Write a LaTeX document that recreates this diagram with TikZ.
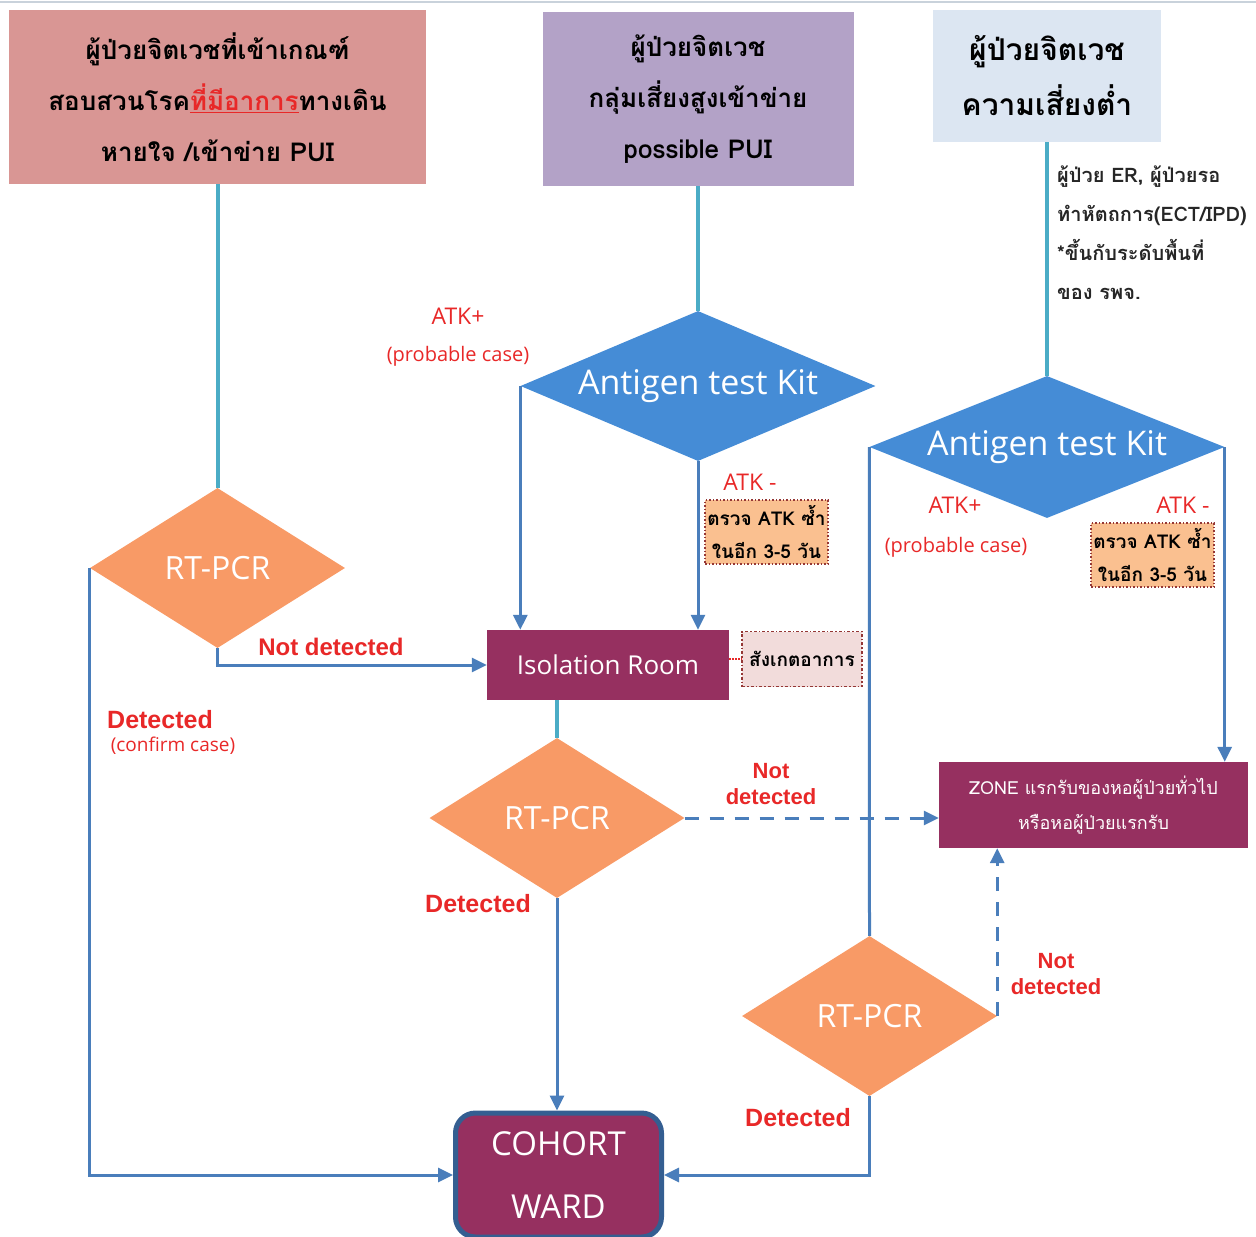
\documentclass[tikz,border=0pt]{standalone}
\usepackage{fontspec}
\setmainfont{Open Sans}
\newfontfamily\thaifont[Script=Thai]{Loma}
\newfontfamily\arialfont{Liberation Sans}
\usetikzlibrary{shapes.geometric,arrows.meta,positioning}

\definecolor{headred}{RGB}{217,150,148}
\definecolor{headpurple}{RGB}{179,162,199}
\definecolor{headblue}{RGB}{220,230,242}
\definecolor{atkblue}{RGB}{69,140,214}
\definecolor{pcrorange}{RGB}{248,154,102}
\definecolor{roompurple}{RGB}{150,48,96}
\definecolor{flowblue}{RGB}{74,126,187}
\definecolor{linkteal}{RGB}{75,172,198}
\definecolor{labelred}{RGB}{232,40,40}
\definecolor{notedark}{RGB}{149,55,53}
\definecolor{noteorange}{RGB}{250,192,144}
\definecolor{notepink}{RGB}{242,220,219}
\definecolor{cohortline}{RGB}{52,94,145}

\tikzset{
  headbox/.style={rectangle, inner sep=0pt, align=center, text=black,
    font=\thaifont\bfseries\fontsize{26}{51}\selectfont},
  atkdiam/.style={diamond, aspect=2.3, inner sep=0pt, fill=atkblue, text=white,
    minimum width=355, minimum height=150, font=\fontsize{34}{40}\selectfont},
  pcrdiam/.style={diamond, aspect=1.6, inner sep=0pt, fill=pcrorange, text=white,
    minimum width=255, minimum height=160, font=\fontsize{32}{38}\selectfont},
  roombox/.style={rectangle, fill=roompurple, text=white, align=center},
  retestbox/.style={rectangle, draw=notedark, line width=1.5pt, dotted, fill=noteorange,
    align=center, minimum width=123, minimum height=64, inner sep=0pt,
    font=\thaifont\bfseries\fontsize{19}{33}\selectfont},
  atklabel/.style={text=labelred, font=\fontsize{23}{28}\selectfont},
  caselabel/.style={text=labelred, font=\fontsize{20}{24}\selectfont},
  pcrlabel/.style={text=labelred, align=center, font=\arialfont\bfseries\fontsize{24}{26}\selectfont},
  flow/.style={draw=flowblue, line width=3pt, -{Triangle[length=15pt,width=14pt]}},
  flowline/.style={draw=flowblue, line width=3pt},
  dashflow/.style={flow, dash pattern=on 14pt off 11pt},
  link/.style={draw=linkteal, line width=4pt}
}

\begin{document}
\begin{tikzpicture}[x=1pt,y=-1pt]
\useasboundingbox (0,0) rectangle (1256,1237);
\draw[headblue!80!gray, line width=2pt] (0,1.5) -- (1256,1.5);

% patient groups
\node[headbox, fill=headred, minimum width=417, minimum height=174] (head1) at (217.5,97)
  {ผู้ป่วยจิตเวชที่เข้าเกณฑ์\\สอบสวนโรค\textcolor{labelred}{\underline{ที่มีอาการ}}ทางเดิน\\หายใจ /เข้าข่าย PUI};
\node[headbox, fill=headpurple, minimum width=311, minimum height=174] (head2) at (698,99)
  {ผู้ป่วยจิตเวช\\กลุ่มเสี่ยงสูงเข้าข่าย\\possible PUI};
\node[headbox, fill=headblue, minimum width=228, minimum height=132,
  font=\thaifont\bfseries\fontsize{30}{55}\selectfont] (head3) at (1047,76)
  {ผู้ป่วยจิตเวช\\ความเสี่ยงต่ำ};
\node[anchor=north west, align=left, inner sep=0pt, text=black!85,
  font=\thaifont\bfseries\fontsize{20}{39}\selectfont] (scope3) at (1057,166)
  {ผู้ป่วย ER, ผู้ป่วยรอ\\ทำหัตถการ(ECT/IPD)\\*ขึ้นกับระดับพื้นที่\\ของ รพจ.};

% tests
\node[atkdiam] (atk1) at (698,386) {Antigen test Kit};
\node[atkdiam, minimum height=142] (atk2) at (1047,447) {Antigen test Kit};
\node[pcrdiam] (pcr1) at (217.5,568) {RT-PCR};
\node[pcrdiam] (pcr2) at (557,818) {RT-PCR};
\node[pcrdiam] (pcr3) at (869.5,1016) {RT-PCR};

% rooms
\node[roombox, minimum width=242, minimum height=70, font=\fontsize{26}{30}\selectfont] (iso) at (608,665) {Isolation Room};
\node[rectangle, draw=notedark, line width=1.5pt, dash dot, fill=notepink, minimum width=120, minimum height=55,
  inner sep=0pt, font=\thaifont\bfseries\fontsize{19}{22}\selectfont] (watch) at (802,659) {สังเกตอาการ};
\node[roombox, minimum width=309, minimum height=86, font=\thaifont\fontsize{18}{35}\selectfont] (zone) at (1093.5,805)
  {ZONE แรกรับของหอผู้ป่วยทั่วไป\\หรือหอผู้ป่วยแรกรับ};
\node[roombox, draw=cohortline, line width=5pt, rounded corners=20pt, minimum width=206, minimum height=124,
  font=\fontsize{33}{63}\selectfont] (cohort) at (558.5,1175) {COHORT\\WARD};

% notes on the branches
\node[atklabel] (pos1) at (458,316) {ATK+};
\node[caselabel] (prob1) at (458,356) {(probable case)};
\node[atklabel] (neg1) at (750,482) {ATK -};
\node[retestbox] (retest1) at (766.5,532) {ตรวจ ATK ซ้ำ\\ในอีก 3-5 วัน};
\node[atklabel] (pos2) at (955,505) {ATK+};
\node[caselabel] (prob2) at (956,547) {(probable case)};
\node[atklabel] (neg2) at (1183,505) {ATK -};
\node[retestbox] (retest2) at (1152.5,555) {ตรวจ ATK ซ้ำ\\ในอีก 3-5 วัน};
\node[pcrlabel] (nd1) at (331,647) {Not detected};
\node[pcrlabel, font=\arialfont\bfseries\fontsize{25}{28}\selectfont] (det1) at (160,720) {Detected};
\node[caselabel, font=\fontsize{19}{22}\selectfont] (conf1) at (173,746) {(confirm case)};
\node[pcrlabel, font=\arialfont\bfseries\fontsize{22}{26}\selectfont] (nd2) at (771,784) {Not\\detected};
\node[pcrlabel, font=\arialfont\bfseries\fontsize{25}{28}\selectfont] (det2) at (478,904) {Detected};
\node[pcrlabel, font=\arialfont\bfseries\fontsize{22}{26}\selectfont] (nd3) at (1056,974) {Not\\detected};
\node[pcrlabel, font=\arialfont\bfseries\fontsize{25}{28}\selectfont] (det3) at (798,1118) {Detected};

% connectors
\draw[link] (head1.south) -- (pcr1.north);
\draw[link] (head2.south) -- (atk1.north);
\draw[link] (head3.south) -- (atk2.north);
\draw[link] (pcr2.north |- iso.south) -- (pcr2.north);
\draw[flow] (atk1.west) -- (atk1.west |- iso.north);
\draw[flow] (atk1.south) -- (atk1.south |- iso.north);
\draw[flow] (pcr1.south) |- (iso.west);
\draw[flow] (pcr1.west) |- (cohort.west);
\draw[flow] (pcr2.south) -- (pcr2.south |- cohort.north);
\draw[dashflow] (pcr2.east) -- (pcr2.east -| zone.west);
\draw[flowline] (atk2.west) -- (pcr3.north);
\draw[flow] (atk2.east) -- (atk2.east |- zone.north);
\draw[dashflow] (pcr3.east) -- (pcr3.east |- zone.south);
\draw[flow] (pcr3.south) |- (cohort.east);
\draw[labelred, line width=2pt, densely dotted] (watch.west -| iso.east) -- (watch.west);
\end{tikzpicture}
\end{document}
